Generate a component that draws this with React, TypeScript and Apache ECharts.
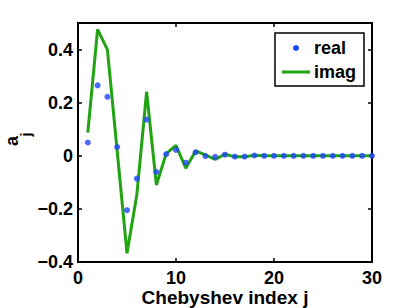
import React, { useEffect, useRef } from "react";
import * as echarts from "echarts";

const jIndex: number[] = Array.from({ length: 30 }, (_, i) => i + 1);
const realValues: number[] = [
  0.05, 0.265, 0.222, 0.033, -0.205, -0.086, 0.136, -0.061, 0.006, 0.022,
  -0.026, 0.013, -0.001, -0.004, 0.004, -0.003, -0.003, 0.001, 0, 0,
  0, 0, 0, 0, 0, 0, 0, 0, 0, 0,
];
const imagValues: number[] = [
  0.087, 0.476, 0.4, 0.017, -0.367, -0.148, 0.241, -0.11, 0.008, 0.039,
  -0.047, 0.018, 0.003, -0.014, 0.006, -0.004, -0.004, 0.002, 0, 0,
  0, 0, 0, 0, 0, 0, 0, 0, 0, 0,
];
const xTicks = { min: 0, max: 30, interval: 10 };
const yTicks = { min: -0.4, max: 0.5, interval: 0.2 };
const seriesNames = ["real", "imag"];
const xTitle = "Chebyshev index j";

const FONT = "Liberation Sans";
const BLUE = "#1f44ff";
const GREEN = "#21a312";

export default function App() {
  const ref = useRef<HTMLDivElement>(null);
  useEffect(() => {
    if (!ref.current) return;
    const chart = echarts.init(ref.current, undefined, { renderer: "svg" });
    const yFmt = (v: number) => {
      const r = Math.round(v * 10) / 10;
      if (r === 0) return "0";
      return r < 0 ? "\u2212" + Math.abs(r).toFixed(1) : r.toFixed(1);
    };
    const tickStyle = { show: true, inside: true, length: 4, lineStyle: { color: "#000", width: 1.5 } };
    const hiddenLine = { show: false, onZero: false };
    const labelStyle = { color: "#000", fontFamily: FONT, fontWeight: "bold" as const, fontSize: 18 };
    chart.setOption({
      animation: false,
      grid: {
        left: 78, right: 38, top: 23, bottom: 46, show: true, containLabel: false,
        outerBoundsMode: "none",
        borderColor: "#000", borderWidth: 2, backgroundColor: "transparent",
      },
      xAxis: [
        {
          type: "value", ...xTicks, position: "bottom",
          axisLine: hiddenLine, axisTick: tickStyle, splitLine: { show: false },
          axisLabel: { ...labelStyle, margin: 8.5, lineHeight: 14 },
          name: xTitle, nameLocation: "middle", nameGap: 27, nameMoveOverlap: false,
          nameTextStyle: { color: "#000", fontFamily: FONT, fontWeight: "bold", fontSize: 19, lineHeight: 16 },
        },
        {
          type: "value", ...xTicks, position: "top",
          axisLine: hiddenLine, axisTick: tickStyle, splitLine: { show: false },
          axisLabel: { show: false },
        },
      ],
      yAxis: [
        {
          type: "value", ...yTicks, position: "left",
          axisLine: hiddenLine, axisTick: tickStyle, splitLine: { show: false },
          axisLabel: { ...labelStyle, margin: 5, formatter: yFmt, showMaxLabel: false },
        },
        {
          type: "value", ...yTicks, position: "right",
          axisLine: hiddenLine, axisTick: tickStyle, splitLine: { show: false },
          axisLabel: { show: false },
        },
      ],
      series: [
        {
          name: seriesNames[1], type: "line", xAxisIndex: 0, yAxisIndex: 0,
          data: jIndex.map((j, i) => [j, imagValues[i]]),
          showSymbol: false, lineStyle: { color: GREEN, width: 3 }, z: 2,
        },
        {
          name: seriesNames[0], type: "scatter", xAxisIndex: 0, yAxisIndex: 0,
          data: jIndex.map((j, i) => [j, realValues[i]]),
          symbol: "circle", symbolSize: 6, itemStyle: { color: BLUE }, z: 3,
        },
      ],
      graphic: [
        {
          type: "text", x: 12, y: 141, rotation: Math.PI / 2,
          style: { text: "a", fill: "#000", font: `bold 18px "${FONT}"`, textAlign: "center", textVerticalAlign: "middle" },
        },
        {
          type: "text", x: 26, y: 134.5, rotation: Math.PI / 2,
          style: { text: "j", fill: "#000", font: `bold 14px "${FONT}"`, textAlign: "center", textVerticalAlign: "middle" },
        },
        {
          type: "rect", shape: { x: 275, y: 33, width: 89, height: 53 }, z: 10,
          style: { fill: "#fff", stroke: "#000", lineWidth: 1.5 },
        },
        { type: "circle", shape: { cx: 296, cy: 48, r: 3 }, z: 11, style: { fill: BLUE } },
        { type: "line", shape: { x1: 282, y1: 72, x2: 310, y2: 72 }, z: 11, style: { stroke: GREEN, lineWidth: 3 } },
        {
          type: "text", x: 314, y: 48, z: 11,
          style: { text: seriesNames[0], fill: "#000", font: `bold 18px "${FONT}"`, textVerticalAlign: "middle" },
        },
        {
          type: "text", x: 314, y: 72, z: 11,
          style: { text: seriesNames[1], fill: "#000", font: `bold 18px "${FONT}"`, textVerticalAlign: "middle" },
        },
      ],
    });
    return () => chart.dispose();
  }, []);
  return <div ref={ref} style={{ width: 410, height: 308, position: "absolute", left: 0, top: 0 }} />;
}
